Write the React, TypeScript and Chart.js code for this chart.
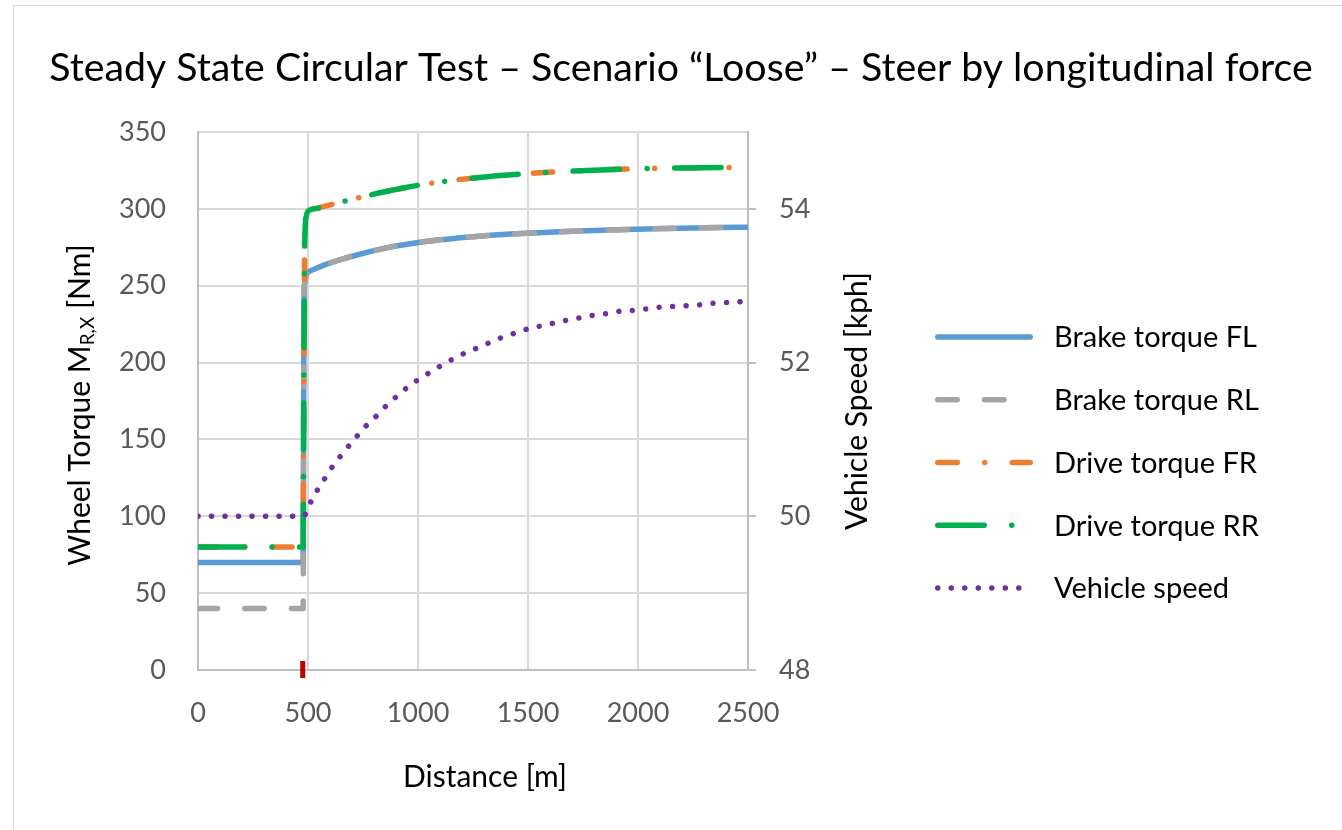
import React, { useEffect, useRef } from "react";
import { Chart, registerables } from "chart.js";

Chart.register(...registerables);

// ---------- text ----------
const TITLE = "Steady State Circular Test – Scenario “Loose” – Steer by longitudinal force";
const X_TITLE = "Distance [m]";
const Y_TITLE_MAIN = "Wheel Torque M";
const Y_TITLE_SUB = "R,X";
const Y_TITLE_TAIL = " [Nm]";
const Y1_TITLE = "Vehicle Speed [kph]";
const SERIES_NAMES = ["Brake torque FL", "Brake torque RL", "Drive torque FR", "Drive torque RR", "Vehicle speed"];

// ---------- axes ----------
const X_MIN = 0, X_MAX = 2500, X_STEP = 500;
const Y_MIN = 0, Y_MAX = 350, Y_STEP = 50;
const Y1_MIN = 48, Y1_MAX = 55, Y1_STEP = 2;
const MARKER_X = 476; // red marker on distance axis

// ---------- data ----------
const brakeFLDist = [0, 478, 480, 482, 485, 490, 497, 530, 570, 640, 722, 800, 874, 950, 1026, 1100, 1178, 1250, 1330, 1420, 1500, 1620, 1750, 1870, 2000, 2120, 2250, 2370, 2500];
const brakeFLVal = [70, 70, 160, 240, 252, 256, 258.2, 260.8, 263.2, 266.6, 270, 272.8, 275.1, 277, 278.6, 279.9, 281, 281.9, 282.8, 283.6, 284.2, 285, 285.7, 286.3, 286.8, 287.2, 287.6, 287.9, 288.1];
const brakeRLDist = brakeFLDist;
const brakeRLVal = [40, 40, 150, 240, 252, 256, 258.2, 260.8, 263.2, 266.6, 270, 272.8, 275.1, 277, 278.6, 279.9, 281, 281.9, 282.8, 283.6, 284.2, 285, 285.7, 286.3, 286.8, 287.2, 287.6, 287.9, 288.1];

const driveDist = [0, 478, 480, 484, 488, 492, 500, 540, 578, 633, 692, 780, 865, 929, 979, 1043, 1150, 1293, 1407, 1535, 1650, 1770, 1963, 2195, 2500];
const driveFRVal = [80, 80, 150, 262, 290, 295, 298.5, 300.3, 301.8, 303.8, 305.9, 308.9, 311.6, 313.4, 314.8, 316.3, 318.4, 320.6, 322, 323.3, 324.2, 325, 326, 326.6, 327];
const driveRRVal = [80, 80, 150, 262, 290, 295, 298.5, 300.3, 301.8, 303.8, 305.9, 308.9, 311.6, 313.4, 314.8, 316.3, 318.4, 320.6, 322, 323.3, 324.2, 325, 326, 326.6, 327];

const speedDist = [0, 478, 515, 551, 583, 619, 656, 692, 728, 765, 806, 842, 883, 920, 961, 1002, 1047, 1093, 1134, 1184, 1230, 1280, 1325, 1375, 1425, 1478, 1531, 1585, 1640, 1695, 1752, 1808, 1866, 1922, 1981, 2040, 2099, 2158, 2217, 2277, 2336, 2400, 2459, 2500];
const speedVal = [50, 50, 50.2, 50.38, 50.52, 50.68, 50.81, 50.94, 51.06, 51.18, 51.29, 51.4, 51.51, 51.6, 51.7, 51.78, 51.86, 51.94, 52.01, 52.08, 52.15, 52.2, 52.26, 52.32, 52.37, 52.42, 52.46, 52.49, 52.53, 52.56, 52.59, 52.62, 52.64, 52.67, 52.68, 52.7, 52.72, 52.73, 52.74, 52.75, 52.77, 52.78, 52.79, 52.79];

// ---------- style ----------
const FONT = "Lato, 'Open Sans', sans-serif";
const COLORS = ["#5B9BD5", "#A5A5A5", "#ED7D31", "#00B050", "#7030A0"];
const DASHES: number[][] = [[], [19.5, 27.2], [19.5, 27.5, 0.01, 27.5], [46.5, 27.5, 0.01, 27.5], [0.01, 13.5]];
const WIDTHS = [5.5, 5.5, 5.5, 5.5, 5.5];
const TITLE_SIZE = 39.3;
const TICK_SIZE = 27;
const AXIS_TITLE_SIZE = 30;
const LEGEND_SIZE = 29;

const zip = (xs: number[], ys: number[]) => xs.map((x, i) => ({ x, y: ys[i] }));
const plain = (v: any) => String(v);

const decorPlugin = {
  id: "decor",
  afterDraw(chart: any) {
    const ctx: CanvasRenderingContext2D = chart.ctx;
    const area = chart.chartArea;
    const xs = chart.scales.x;
    ctx.save();

    // title
    ctx.fillStyle = "#000";
    ctx.font = `${TITLE_SIZE}px ${FONT}`;
    ctx.textAlign = "center";
    ctx.textBaseline = "middle";
    ctx.fillText(TITLE, 681, 68);

    // x title
    ctx.font = `${AXIS_TITLE_SIZE}px ${FONT}`;
    ctx.fillText(X_TITLE, (area.left + area.right) / 2 + 12, 777);

    // right title
    ctx.save();
    ctx.translate(857, (area.top + area.bottom) / 2);
    ctx.rotate(-Math.PI / 2);
    ctx.fillText(Y1_TITLE, 0, 0);
    ctx.restore();

    // left title with subscript
    ctx.save();
    ctx.translate(80, (area.top + area.bottom) / 2);
    ctx.rotate(-Math.PI / 2);
    ctx.textAlign = "left";
    const mainFont = `${AXIS_TITLE_SIZE}px ${FONT}`;
    const subFont = `${Math.round(AXIS_TITLE_SIZE * 0.64)}px ${FONT}`;
    ctx.font = mainFont;
    const w1 = ctx.measureText(Y_TITLE_MAIN).width;
    const w3 = ctx.measureText(Y_TITLE_TAIL).width;
    ctx.font = subFont;
    const w2 = ctx.measureText(Y_TITLE_SUB).width;
    let px = -(w1 + w2 + w3) / 2 - 4;
    ctx.font = mainFont;
    ctx.fillText(Y_TITLE_MAIN, px, 0);
    px += w1;
    ctx.font = subFont;
    ctx.fillText(Y_TITLE_SUB, px, 8);
    px += w2;
    ctx.font = mainFont;
    ctx.fillText(Y_TITLE_TAIL, px, 0);
    ctx.restore();

    // red marker on x axis
    const mx = xs.getPixelForValue(MARKER_X);
    ctx.fillStyle = "#C00000";
    ctx.fillRect(mx - 2.5, area.bottom - 9, 5, 17);

    // legend
    const lx0 = 935, tx = 1054, ly0 = 337, dy = 62.75;
    ctx.font = `${LEGEND_SIZE}px ${FONT}`;
    ctx.textAlign = "left";
    ctx.textBaseline = "middle";
    const ends = [1033, 1007, 1033, 1018, 1022];
    SERIES_NAMES.forEach((name, i) => {
      const y = ly0 + i * dy;
      const w = WIDTHS[i];
      ctx.beginPath();
      ctx.strokeStyle = COLORS[i];
      ctx.lineWidth = w;
      ctx.lineCap = "round";
      ctx.setLineDash(DASHES[i]);
      ctx.moveTo(lx0 + w / 2, y);
      ctx.lineTo(ends[i] - w / 2, y);
      ctx.stroke();
      ctx.setLineDash([]);
      ctx.fillStyle = "#000";
      ctx.fillText(name, tx, y + 1);
    });
    ctx.restore();
  },
};

export default function App() {
  const canvasRef = useRef<HTMLCanvasElement | null>(null);

  useEffect(() => {
    const canvas = canvasRef.current;
    if (!canvas) return;

    const mk = (i: number, data: { x: number; y: number }[], axis: string) => ({
      label: SERIES_NAMES[i],
      data,
      yAxisID: axis,
      borderColor: COLORS[i],
      backgroundColor: COLORS[i],
      borderWidth: WIDTHS[i],
      borderDash: DASHES[i],
      borderCapStyle: "round",
      borderJoinStyle: "round",
      pointRadius: 0,
      pointHoverRadius: 0,
      fill: false,
      cubicInterpolationMode: "monotone",
    });

    // dataset 0 is drawn on top in Chart.js
    const datasets = [
      mk(4, zip(speedDist, speedVal), "y1"),
      mk(3, zip(driveDist, driveRRVal), "y"),
      mk(2, zip(driveDist, driveFRVal), "y"),
      mk(1, zip(brakeRLDist, brakeRLVal), "y"),
      mk(0, zip(brakeFLDist, brakeFLVal), "y"),
    ];

    const tickFont = { size: TICK_SIZE, family: FONT };

    const chart = new Chart(canvas, {
      type: "line",
      data: { datasets } as any,
      options: {
        responsive: false,
        animation: false,
        events: [],
        layout: { padding: { left: 0, right: 494, top: 132, bottom: 0 } },
        plugins: {
          legend: { display: false },
          title: { display: false },
          tooltip: { enabled: false },
        },
        scales: {
          x: {
            type: "linear",
            min: X_MIN,
            max: X_MAX,
            afterFit: (s: any) => { s.height = 160; },
            ticks: { stepSize: X_STEP, color: "#595959", font: tickFont, padding: 27, maxRotation: 0, callback: plain },
            grid: { color: "#d9d9d9", lineWidth: 2, drawTicks: false },
            border: { color: "#bfbfbf", width: 2 },
          },
          y: {
            type: "linear",
            position: "left",
            min: Y_MIN,
            max: Y_MAX,
            afterFit: (s: any) => { s.width = 198; },
            ticks: { stepSize: Y_STEP, color: "#595959", font: tickFont, padding: 32, callback: plain },
            grid: { color: "#d9d9d9", lineWidth: 2, drawTicks: false },
            border: { color: "#bfbfbf", width: 2 },
          },
          y1: {
            type: "linear",
            position: "right",
            min: Y1_MIN,
            max: Y1_MAX,
            afterFit: (s: any) => { s.width = 100; },
            ticks: { stepSize: Y1_STEP, includeBounds: false, color: "#595959", font: tickFont, padding: 23, callback: plain },
            grid: { drawOnChartArea: false, drawTicks: true, tickLength: 8, color: "#bfbfbf", lineWidth: 2 },
            border: { color: "#bfbfbf", width: 2 },
          },
        },
      } as any,
      plugins: [decorPlugin],
    });

    return () => chart.destroy();
  }, []);

  return (
    <div style={{ position: "absolute", left: 0, top: 0, width: 1342, height: 830, background: "#fff", overflow: "hidden" }}>
      <div style={{ position: "absolute", left: 13, top: 5, width: 1400, height: 900, border: "1px solid #d9d9d9", boxSizing: "border-box" }} />
      <canvas ref={canvasRef} width={1342} height={830} style={{ position: "absolute", left: 0, top: 0, display: "block" }} />
    </div>
  );
}
